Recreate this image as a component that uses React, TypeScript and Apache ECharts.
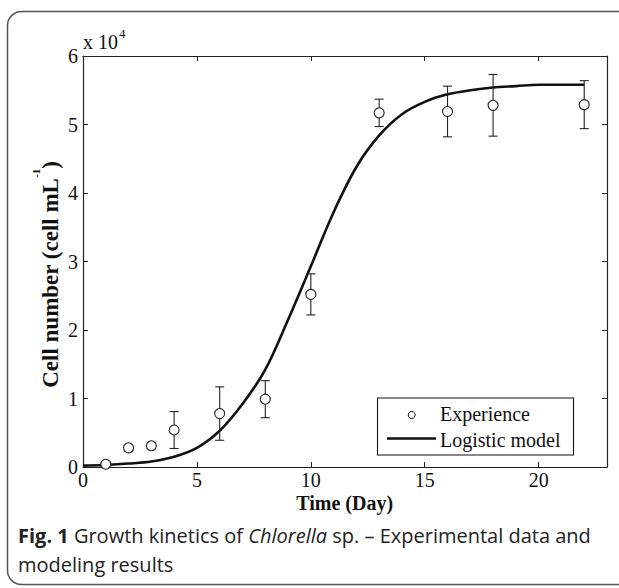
import React, { useEffect, useRef } from "react";
import * as echarts from "echarts";

// Experimental data (cell number, x 10^4 cells/mL)
const days = [1, 2, 3, 4, 6, 8, 10, 13, 16, 18, 22];
const cellMean = [0.04, 0.28, 0.31, 0.54, 0.78, 0.99, 2.52, 5.17, 5.19, 5.28, 5.29];
const cellErr = [0.02, 0.03, 0.03, 0.27, 0.39, 0.27, 0.3, 0.2, 0.37, 0.45, 0.35];

// Logistic model curve
const modelDays = [0, 1, 2, 3, 4, 5, 6, 7, 8, 9, 10, 11, 12, 13, 14, 15, 16, 17, 18, 19, 20, 21, 22];
const modelCells = [0.02, 0.03, 0.05, 0.08, 0.15, 0.28, 0.53, 0.92, 1.42, 2.15, 2.93, 3.72, 4.38, 4.84, 5.15, 5.33, 5.44, 5.5, 5.54, 5.56, 5.58, 5.58, 5.58];

const xTicks = [0, 5, 10, 15, 20];
const yTicks = [0, 1, 2, 3, 4, 5, 6];

const SERIF = "'Liberation Serif', 'Times New Roman', serif";
const SANS = "'Open Sans', 'Noto Sans', sans-serif";

export default function App() {
  const ref = useRef<HTMLDivElement>(null);
  useEffect(() => {
    const chart = echarts.init(ref.current!, null, { renderer: "svg" });
    const axisLine = { show: true, onZero: false, lineStyle: { color: "#222", width: 1.2 } };
    const axisTick = { show: true, inside: true, length: 5, lineStyle: { color: "#222", width: 1 } };
    const xMin = xTicks[0];
    const yMin = yTicks[0];
    const option: any = {
      animation: false,
      backgroundColor: "#fff",
      grid: { left: 83, top: 56, right: 12, bottom: 121, containLabel: false },
      xAxis: [
        {
          type: "value",
          position: "bottom",
          min: xMin,
          max: 23,
          interval: 5,
          axisLine,
          axisTick,
          splitLine: { show: false },
          axisLabel: {
            margin: 5,
            lineHeight: 16,
            fontFamily: SERIF,
            fontSize: 20,
            color: "#111",
            formatter: (v: number) => (xTicks.indexOf(v) >= 0 ? String(v) : ""),
          },
        },
        {
          type: "value",
          position: "top",
          min: xMin,
          max: 23,
          interval: 5,
          axisLine,
          axisTick,
          splitLine: { show: false },
          axisLabel: { show: false },
        },
      ],
      yAxis: [
        {
          type: "value",
          position: "left",
          min: yMin,
          max: 6,
          interval: 1,
          axisLine,
          axisTick,
          splitLine: { show: false },
          axisLabel: {
            margin: 5,
            fontFamily: SERIF,
            fontSize: 20,
            color: "#111",
            formatter: (v: number) => (yTicks.indexOf(v) >= 0 ? String(v) : ""),
          },
        },
        {
          type: "value",
          position: "right",
          min: yMin,
          max: 6,
          interval: 1,
          axisLine,
          axisTick,
          splitLine: { show: false },
          axisLabel: { show: false },
        },
      ],
      series: [
        {
          name: "Logistic model",
          type: "line",
          xAxisIndex: 0,
          yAxisIndex: 0,
          data: modelDays.map((d, i) => [d, modelCells[i]]),
          smooth: 0.35,
          showSymbol: false,
          lineStyle: { color: "#111", width: 2.6 },
          z: 2,
        },
        {
          name: "errorbars",
          type: "custom",
          xAxisIndex: 0,
          yAxisIndex: 0,
          data: days.map((d, i) => [d, cellMean[i], cellErr[i]]),
          renderItem: (params: any, api: any) => {
            const x = api.value(0);
            const m = api.value(1);
            const e = api.value(2);
            const top = api.coord([x, m + e]);
            const bot = api.coord([x, m - e]);
            const hw = 4.5;
            const st = { stroke: "#222", lineWidth: 1.1 };
            return {
              type: "group",
              children: [
                { type: "line", shape: { x1: top[0], y1: top[1], x2: bot[0], y2: bot[1] }, style: st },
                { type: "line", shape: { x1: top[0] - hw, y1: top[1], x2: top[0] + hw, y2: top[1] }, style: st },
                { type: "line", shape: { x1: bot[0] - hw, y1: bot[1], x2: bot[0] + hw, y2: bot[1] }, style: st },
              ],
            };
          },
          z: 3,
        },
        {
          name: "Experience",
          type: "scatter",
          xAxisIndex: 0,
          yAxisIndex: 0,
          data: days.map((d, i) => [d, cellMean[i]]),
          symbol: "circle",
          symbolSize: 10,
          itemStyle: { color: "#fff", borderColor: "#222", borderWidth: 1.1, opacity: 1 },
          z: 4,
        },
      ],
      graphic: [
        {
          type: "rect",
          shape: { x: 7.5, y: 11.5, width: 700, height: 573, r: 14 },
          style: { fill: "none", stroke: "#555", lineWidth: 1.5 },
          z: 0,
          silent: true,
        },
        {
          type: "text",
          x: 83,
          y: 42,
          style: { text: "x 10", fontFamily: SERIF, fontSize: 20, fill: "#111", align: "left", verticalAlign: "middle" },
        },
        {
          type: "text",
          x: 119,
          y: 33,
          style: { text: "4", fontFamily: SERIF, fontSize: 13, fill: "#111", align: "left", verticalAlign: "middle" },
        },
        {
          type: "text",
          x: 344.7,
          y: 502.5,
          style: { text: "Time (Day)", fontFamily: SERIF, fontSize: 20, lineHeight: 16, fontWeight: "bold", fill: "#111", align: "center", verticalAlign: "middle" },
        },
        {
          type: "text",
          x: 46,
          y: 274.5,
          rotation: Math.PI / 2,
          style: {
            text: "{b|Cell number (cell mL}{s|-1}{b|)}",
            align: "center",
            verticalAlign: "middle",
            fill: "#111",
            rich: {
              b: { fontFamily: SERIF, fontSize: 23, fontWeight: "bold", lineHeight: 31.5, verticalAlign: "bottom", fill: "#111" },
              s: { fontFamily: SERIF, fontSize: 11, fontWeight: "bold", verticalAlign: "top", fill: "#111" },
            },
          },
        },
        // legend
        {
          type: "rect",
          shape: { x: 377.5, y: 398, width: 196, height: 57 },
          style: { fill: "#fff", stroke: "#111", lineWidth: 1.1 },
          z: 10,
        },
        {
          type: "circle",
          shape: { cx: 411.7, cy: 415, r: 3.5 },
          style: { fill: "none", stroke: "#111", lineWidth: 1 },
          z: 11,
        },
        {
          type: "text",
          x: 440,
          y: 414,
          z: 11,
          style: { text: "Experience", fontFamily: SERIF, fontSize: 20, fill: "#111", align: "left", verticalAlign: "middle" },
        },
        {
          type: "line",
          shape: { x1: 387, y1: 438.5, x2: 436, y2: 438.5 },
          style: { stroke: "#111", lineWidth: 2.6 },
          z: 11,
        },
        {
          type: "text",
          x: 440,
          y: 440,
          z: 11,
          style: { text: "Logistic model", fontFamily: SERIF, fontSize: 20, fill: "#111", align: "left", verticalAlign: "middle" },
        },
        // caption
        {
          type: "text",
          x: 18,
          y: 535,
          style: {
            text: "{fb|Fig. 1} Growth kinetics of {it|Chlorella} sp. – Experimental data and",
            fontFamily: SANS,
            fontSize: 20,
            fill: "#222",
            align: "left",
            verticalAlign: "middle",
            rich: {
              fb: { fontFamily: SANS, fontSize: 20, fontWeight: "bold", fill: "#222" },
              it: { fontFamily: SANS, fontSize: 20, fontStyle: "italic", fill: "#222" },
            },
          },
        },
        {
          type: "text",
          x: 18,
          y: 564,
          style: { text: "modeling results", fontFamily: SANS, fontSize: 20, fill: "#222", align: "left", verticalAlign: "middle" },
        },
      ],
    };
    chart.setOption(option);
    return () => chart.dispose();
  }, []);
  return (
    <div
      ref={ref}
      style={{ position: "absolute", left: 0, top: 0, width: 619, height: 588, background: "#fff" }}
    />
  );
}
